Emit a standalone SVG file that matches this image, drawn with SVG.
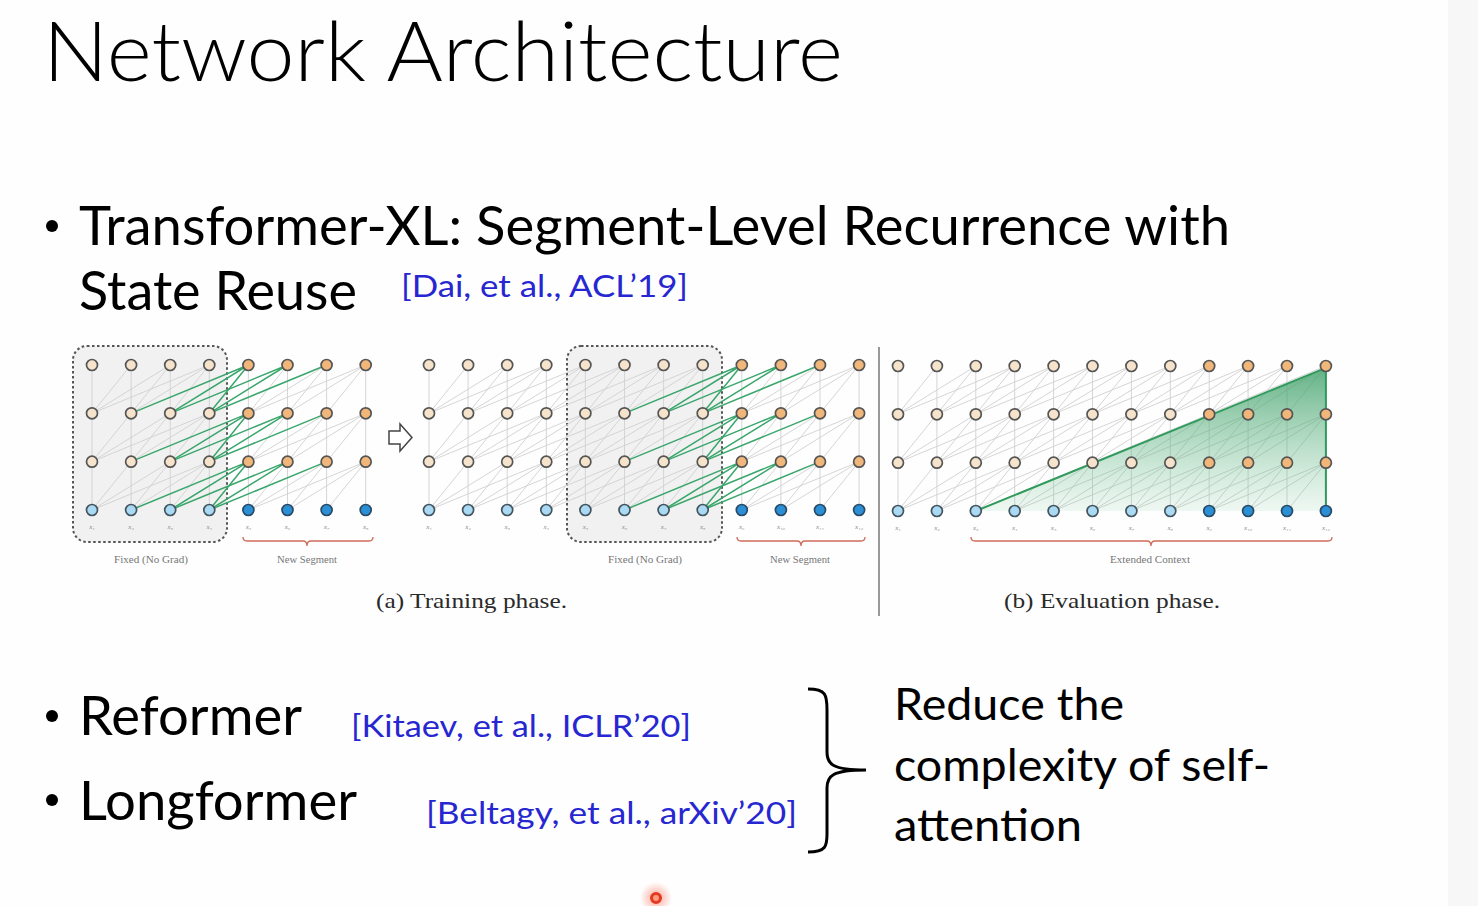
<svg xmlns="http://www.w3.org/2000/svg" xmlns:xlink="http://www.w3.org/1999/xlink" width="1478" height="906" viewBox="0 0 1478 906">
<style>
.t{font-family:Lato,"Open Sans","Liberation Sans",sans-serif;fill:#000}
.cite{font-family:Lato,"Open Sans","Liberation Sans",sans-serif;fill:#2727d2}
.gl{stroke:#d0d0d0;stroke-width:0.9;fill:none}
.gr{stroke:#3aa66c;stroke-width:1.5;fill:none}
.b{fill:#f6e3cb;stroke:#555;stroke-width:1.7}
.o{fill:#f0b67a;stroke:#555;stroke-width:1.7}
.l{fill:#a9d9f3;stroke:#44545f;stroke-width:1.7}
.d{fill:#2b8fd6;stroke:#2a4a66;stroke-width:1.7}
.xl{font-family:"Liberation Serif","DejaVu Serif",serif;font-size:7px;fill:#888;text-anchor:middle;font-style:italic}
.sm{font-family:"Liberation Serif","DejaVu Serif",serif;font-size:11px;fill:#777;text-anchor:middle}
.cap{font-family:"Liberation Serif","DejaVu Serif",serif;font-size:22px;fill:#2a2a2a;text-anchor:middle}
.brace{fill:none;stroke:#d06a5a;stroke-width:1.3}
.box{fill:#f1f1f1;stroke:#555;stroke-width:2;stroke-dasharray:2.5 2.5}
</style>
<defs>
<path id="f1" d="M0 0V48.33"/>
<path id="f2" d="M0 0V48.33M0 0L-39.1 48.33"/>
<path id="f3" d="M0 0V48.33M0 0L-39.1 48.33M0 0L-78.2 48.33"/>
<path id="f4" d="M0 0V48.33M0 0L-39.1 48.33M0 0L-78.2 48.33M0 0L-117.3 48.33"/>
<path id="e3" d="M0 0L-39.1 48.33M0 0L-78.2 48.33M0 0L-117.3 48.33"/>
<path id="e2" d="M0 0L-78.2 48.33M0 0L-117.3 48.33"/>
<path id="e1" d="M0 0L-117.3 48.33"/>
<g id="a1g"><use href="#f1" x="92"/><use href="#f2" x="131.1"/><use href="#f3" x="170.2"/><use href="#f4" x="209.3"/><use href="#f1" x="248.4"/><use href="#f2" x="287.5"/><use href="#f3" x="326.6"/><use href="#f4" x="365.7"/></g>
<g id="a1e"><use href="#e3" x="248.4"/><use href="#e2" x="287.5"/><use href="#e1" x="326.6"/></g>
<g id="a2g"><use href="#f1" x="429"/><use href="#f2" x="468.1"/><use href="#f3" x="507.2"/><use href="#f4" x="546.3"/><use href="#f4" x="585.4"/><use href="#f4" x="624.5"/><use href="#f4" x="663.6"/><use href="#f4" x="702.7"/><use href="#f1" x="741.8"/><use href="#f2" x="780.9"/><use href="#f3" x="820"/><use href="#f4" x="859.1"/></g>
<g id="a2e"><use href="#e3" x="741.8"/><use href="#e2" x="780.9"/><use href="#e1" x="820"/></g>
<g id="bg"><use href="#f1" x="898"/><use href="#f2" x="936.9"/><use href="#f3" x="975.8"/><use href="#f4" x="1014.7"/><use href="#f4" x="1053.6"/><use href="#f4" x="1092.5"/><use href="#f4" x="1131.4"/><use href="#f4" x="1170.3"/><use href="#f4" x="1209.2"/><use href="#f4" x="1248.1"/><use href="#f4" x="1287"/><use href="#f4" x="1325.9"/></g>
<linearGradient id="tri" x1="0" y1="0" x2="0" y2="1">
<stop offset="0" stop-color="#3e9f68" stop-opacity="0.8"/>
<stop offset="1" stop-color="#7cc79a" stop-opacity="0.12"/>
</linearGradient>
<radialGradient id="glow">
<stop offset="0" stop-color="#ff6a50" stop-opacity="0.6"/>
<stop offset="1" stop-color="#ff6a50" stop-opacity="0"/>
</radialGradient>
</defs>
<rect x="0" y="0" width="1478" height="906" fill="#fefefe"/>
<rect x="1448" y="0" width="30" height="906" fill="#f7f7f7"/>

<g id="title"><text class="t" x="43" y="81" font-size="82" font-weight="300" textLength="800" lengthAdjust="spacingAndGlyphs">Network Architecture</text></g>

<g id="bullet1">
<circle cx="52" cy="226" r="6" fill="#000"/>
<text class="t" x="79" y="245" font-size="54" textLength="1151" lengthAdjust="spacingAndGlyphs">Transformer-XL: Segment-Level Recurrence with</text>
<text class="t" x="79" y="310" font-size="54" textLength="278" lengthAdjust="spacingAndGlyphs">State Reuse</text>
<text class="cite" x="401" y="297" font-size="31" textLength="287" lengthAdjust="spacingAndGlyphs">[Dai, et al., ACL’19]</text>
</g>

<g id="figure">
<g id="boxes">
<rect class="box" x="73" y="346" width="154" height="196" rx="14"/>
<rect class="box" x="567" y="346" width="155" height="196" rx="14"/>
</g>
<g id="connectors">
<g class="gl">
<use href="#a1g" y="365"/><use href="#a1g" y="413.33"/><use href="#a1g" y="461.67"/>
<use href="#a2g" y="365"/><use href="#a2g" y="413.33"/><use href="#a2g" y="461.67"/>
<use href="#bg" y="366"/><use href="#bg" y="414.33"/><use href="#bg" y="462.67"/>
</g>
<g class="gr">
<use href="#a1e" y="365"/><use href="#a1e" y="413.33"/><use href="#a1e" y="461.67"/>
<use href="#a2e" y="365"/><use href="#a2e" y="413.33"/><use href="#a2e" y="461.67"/>
</g>
<path d="M975.8 511L1325.9 369L1325.9 511Z" fill="url(#tri)"/>
<path d="M975.8 511L1325.9 368M1325.9 366V511" fill="none" stroke="#2f9a5c" stroke-width="2"/>
</g>

<g id="nodesA1">
<g id="a1r3"><circle class="b" cx="92" cy="365" r="5.5"/><circle class="b" cx="131.1" cy="365" r="5.5"/><circle class="b" cx="170.2" cy="365" r="5.5"/><circle class="b" cx="209.3" cy="365" r="5.5"/><circle class="o" cx="248.4" cy="365" r="5.5"/><circle class="o" cx="287.5" cy="365" r="5.5"/><circle class="o" cx="326.6" cy="365" r="5.5"/><circle class="o" cx="365.7" cy="365" r="5.5"/></g>
<g id="a1r2"><circle class="b" cx="92" cy="413.3" r="5.5"/><circle class="b" cx="131.1" cy="413.3" r="5.5"/><circle class="b" cx="170.2" cy="413.3" r="5.5"/><circle class="b" cx="209.3" cy="413.3" r="5.5"/><circle class="o" cx="248.4" cy="413.3" r="5.5"/><circle class="o" cx="287.5" cy="413.3" r="5.5"/><circle class="o" cx="326.6" cy="413.3" r="5.5"/><circle class="o" cx="365.7" cy="413.3" r="5.5"/></g>
<g id="a1r1"><circle class="b" cx="92" cy="461.7" r="5.5"/><circle class="b" cx="131.1" cy="461.7" r="5.5"/><circle class="b" cx="170.2" cy="461.7" r="5.5"/><circle class="b" cx="209.3" cy="461.7" r="5.5"/><circle class="o" cx="248.4" cy="461.7" r="5.5"/><circle class="o" cx="287.5" cy="461.7" r="5.5"/><circle class="o" cx="326.6" cy="461.7" r="5.5"/><circle class="o" cx="365.7" cy="461.7" r="5.5"/></g>
<g id="a1r0"><circle class="l" cx="92" cy="510" r="5.5"/><circle class="l" cx="131.1" cy="510" r="5.5"/><circle class="l" cx="170.2" cy="510" r="5.5"/><circle class="l" cx="209.3" cy="510" r="5.5"/><circle class="d" cx="248.4" cy="510" r="5.5"/><circle class="d" cx="287.5" cy="510" r="5.5"/><circle class="d" cx="326.6" cy="510" r="5.5"/><circle class="d" cx="365.7" cy="510" r="5.5"/></g>
<g id="a1x"><text class="xl" x="92" y="529">x₁</text><text class="xl" x="131.1" y="529">x₂</text><text class="xl" x="170.2" y="529">x₃</text><text class="xl" x="209.3" y="529">x₄</text><text class="xl" x="248.4" y="529">x₅</text><text class="xl" x="287.5" y="529">x₆</text><text class="xl" x="326.6" y="529">x₇</text><text class="xl" x="365.7" y="529">x₈</text></g>
</g>

<g id="nodesA2">
<g id="a2r3"><circle class="b" cx="429" cy="365" r="5.5"/><circle class="b" cx="468.1" cy="365" r="5.5"/><circle class="b" cx="507.2" cy="365" r="5.5"/><circle class="b" cx="546.3" cy="365" r="5.5"/><circle class="b" cx="585.4" cy="365" r="5.5"/><circle class="b" cx="624.5" cy="365" r="5.5"/><circle class="b" cx="663.6" cy="365" r="5.5"/><circle class="b" cx="702.7" cy="365" r="5.5"/><circle class="o" cx="741.8" cy="365" r="5.5"/><circle class="o" cx="780.9" cy="365" r="5.5"/><circle class="o" cx="820" cy="365" r="5.5"/><circle class="o" cx="859.1" cy="365" r="5.5"/></g>
<g id="a2r2"><circle class="b" cx="429" cy="413.3" r="5.5"/><circle class="b" cx="468.1" cy="413.3" r="5.5"/><circle class="b" cx="507.2" cy="413.3" r="5.5"/><circle class="b" cx="546.3" cy="413.3" r="5.5"/><circle class="b" cx="585.4" cy="413.3" r="5.5"/><circle class="b" cx="624.5" cy="413.3" r="5.5"/><circle class="b" cx="663.6" cy="413.3" r="5.5"/><circle class="b" cx="702.7" cy="413.3" r="5.5"/><circle class="o" cx="741.8" cy="413.3" r="5.5"/><circle class="o" cx="780.9" cy="413.3" r="5.5"/><circle class="o" cx="820" cy="413.3" r="5.5"/><circle class="o" cx="859.1" cy="413.3" r="5.5"/></g>
<g id="a2r1"><circle class="b" cx="429" cy="461.7" r="5.5"/><circle class="b" cx="468.1" cy="461.7" r="5.5"/><circle class="b" cx="507.2" cy="461.7" r="5.5"/><circle class="b" cx="546.3" cy="461.7" r="5.5"/><circle class="b" cx="585.4" cy="461.7" r="5.5"/><circle class="b" cx="624.5" cy="461.7" r="5.5"/><circle class="b" cx="663.6" cy="461.7" r="5.5"/><circle class="b" cx="702.7" cy="461.7" r="5.5"/><circle class="o" cx="741.8" cy="461.7" r="5.5"/><circle class="o" cx="780.9" cy="461.7" r="5.5"/><circle class="o" cx="820" cy="461.7" r="5.5"/><circle class="o" cx="859.1" cy="461.7" r="5.5"/></g>
<g id="a2r0"><circle class="l" cx="429" cy="510" r="5.5"/><circle class="l" cx="468.1" cy="510" r="5.5"/><circle class="l" cx="507.2" cy="510" r="5.5"/><circle class="l" cx="546.3" cy="510" r="5.5"/><circle class="l" cx="585.4" cy="510" r="5.5"/><circle class="l" cx="624.5" cy="510" r="5.5"/><circle class="l" cx="663.6" cy="510" r="5.5"/><circle class="l" cx="702.7" cy="510" r="5.5"/><circle class="d" cx="741.8" cy="510" r="5.5"/><circle class="d" cx="780.9" cy="510" r="5.5"/><circle class="d" cx="820" cy="510" r="5.5"/><circle class="d" cx="859.1" cy="510" r="5.5"/></g>
<g id="a2x"><text class="xl" x="429" y="529">x₁</text><text class="xl" x="468.1" y="529">x₂</text><text class="xl" x="507.2" y="529">x₃</text><text class="xl" x="546.3" y="529">x₄</text><text class="xl" x="585.4" y="529">x₅</text><text class="xl" x="624.5" y="529">x₆</text><text class="xl" x="663.6" y="529">x₇</text><text class="xl" x="702.7" y="529">x₈</text><text class="xl" x="741.8" y="529">x₉</text><text class="xl" x="780.9" y="529">x₁₀</text><text class="xl" x="820" y="529">x₁₁</text><text class="xl" x="859.1" y="529">x₁₂</text></g>
</g>

<g id="nodesB">
<g id="br3"><circle class="b" cx="898" cy="366" r="5.5"/><circle class="b" cx="936.9" cy="366" r="5.5"/><circle class="b" cx="975.8" cy="366" r="5.5"/><circle class="b" cx="1014.7" cy="366" r="5.5"/><circle class="b" cx="1053.6" cy="366" r="5.5"/><circle class="b" cx="1092.5" cy="366" r="5.5"/><circle class="b" cx="1131.4" cy="366" r="5.5"/><circle class="b" cx="1170.3" cy="366" r="5.5"/><circle class="o" cx="1209.2" cy="366" r="5.5"/><circle class="o" cx="1248.1" cy="366" r="5.5"/><circle class="o" cx="1287" cy="366" r="5.5"/><circle class="o" cx="1325.9" cy="366" r="5.5"/></g>
<g id="br2"><circle class="b" cx="898" cy="414.3" r="5.5"/><circle class="b" cx="936.9" cy="414.3" r="5.5"/><circle class="b" cx="975.8" cy="414.3" r="5.5"/><circle class="b" cx="1014.7" cy="414.3" r="5.5"/><circle class="b" cx="1053.6" cy="414.3" r="5.5"/><circle class="b" cx="1092.5" cy="414.3" r="5.5"/><circle class="b" cx="1131.4" cy="414.3" r="5.5"/><circle class="b" cx="1170.3" cy="414.3" r="5.5"/><circle class="o" cx="1209.2" cy="414.3" r="5.5"/><circle class="o" cx="1248.1" cy="414.3" r="5.5"/><circle class="o" cx="1287" cy="414.3" r="5.5"/><circle class="o" cx="1325.9" cy="414.3" r="5.5"/></g>
<g id="br1"><circle class="b" cx="898" cy="462.7" r="5.5"/><circle class="b" cx="936.9" cy="462.7" r="5.5"/><circle class="b" cx="975.8" cy="462.7" r="5.5"/><circle class="b" cx="1014.7" cy="462.7" r="5.5"/><circle class="b" cx="1053.6" cy="462.7" r="5.5"/><circle class="b" cx="1092.5" cy="462.7" r="5.5"/><circle class="b" cx="1131.4" cy="462.7" r="5.5"/><circle class="b" cx="1170.3" cy="462.7" r="5.5"/><circle class="o" cx="1209.2" cy="462.7" r="5.5"/><circle class="o" cx="1248.1" cy="462.7" r="5.5"/><circle class="o" cx="1287" cy="462.7" r="5.5"/><circle class="o" cx="1325.9" cy="462.7" r="5.5"/></g>
<g id="br0"><circle class="l" cx="898" cy="511" r="5.5"/><circle class="l" cx="936.9" cy="511" r="5.5"/><circle class="l" cx="975.8" cy="511" r="5.5"/><circle class="l" cx="1014.7" cy="511" r="5.5"/><circle class="l" cx="1053.6" cy="511" r="5.5"/><circle class="l" cx="1092.5" cy="511" r="5.5"/><circle class="l" cx="1131.4" cy="511" r="5.5"/><circle class="l" cx="1170.3" cy="511" r="5.5"/><circle class="d" cx="1209.2" cy="511" r="5.5"/><circle class="d" cx="1248.1" cy="511" r="5.5"/><circle class="d" cx="1287" cy="511" r="5.5"/><circle class="d" cx="1325.9" cy="511" r="5.5"/></g>
<g id="bx"><text class="xl" x="898" y="530">x₁</text><text class="xl" x="936.9" y="530">x₂</text><text class="xl" x="975.8" y="530">x₃</text><text class="xl" x="1014.7" y="530">x₄</text><text class="xl" x="1053.6" y="530">x₅</text><text class="xl" x="1092.5" y="530">x₆</text><text class="xl" x="1131.4" y="530">x₇</text><text class="xl" x="1170.3" y="530">x₈</text><text class="xl" x="1209.2" y="530">x₉</text><text class="xl" x="1248.1" y="530">x₁₀</text><text class="xl" x="1287" y="530">x₁₁</text><text class="xl" x="1325.9" y="530">x₁₂</text></g>
</g>

<g id="figlabels">
<path class="brace" d="M243 537Q243 541 247 541L303 541Q307 541 307 546Q307 541 311 541L369 541Q373 541 373 537"/>
<path class="brace" d="M737 537Q737 541 741 541L797 541Q801 541 801 546Q801 541 805 541L861 541Q865 541 865 537"/>
<path class="brace" d="M971 537Q971 541 975 541L1147 541Q1151 541 1151 546Q1151 541 1155 541L1328 541Q1332 541 1332 537"/>
<text class="sm" x="151" y="563" textLength="74" lengthAdjust="spacingAndGlyphs">Fixed (No Grad)</text>
<text class="sm" x="307" y="563" textLength="60" lengthAdjust="spacingAndGlyphs">New Segment</text>
<text class="sm" x="645" y="563" textLength="74" lengthAdjust="spacingAndGlyphs">Fixed (No Grad)</text>
<text class="sm" x="800" y="563" textLength="60" lengthAdjust="spacingAndGlyphs">New Segment</text>
<text class="sm" x="1150" y="563" textLength="80" lengthAdjust="spacingAndGlyphs">Extended Context</text>
<path d="M389 431H400V424L412 437.5L400 451V444H389Z" fill="#fff" stroke="#444" stroke-width="1.5"/>
<line x1="879" y1="347" x2="879" y2="616" stroke="#777" stroke-width="1.5"/>
<text class="cap" x="471.5" y="608" textLength="191" lengthAdjust="spacingAndGlyphs">(a) Training phase.</text>
<text class="cap" x="1112" y="608" textLength="216" lengthAdjust="spacingAndGlyphs">(b) Evaluation phase.</text>
</g>
</g>

<g id="bullet2">
<circle cx="52" cy="716" r="6" fill="#000"/>
<text class="t" x="79" y="735" font-size="54" textLength="223" lengthAdjust="spacingAndGlyphs">Reformer</text>
<text class="cite" x="351" y="737" font-size="31" textLength="340" lengthAdjust="spacingAndGlyphs">[Kitaev, et al., ICLR’20]</text>
</g>
<g id="bullet3">
<circle cx="52" cy="800" r="6" fill="#000"/>
<text class="t" x="79" y="820" font-size="54" textLength="278" lengthAdjust="spacingAndGlyphs">Longformer</text>
<text class="cite" x="426" y="824" font-size="31" textLength="371" lengthAdjust="spacingAndGlyphs">[Beltagy, et al., arXiv’20]</text>
</g>

<g id="summary">
<path d="M808 689C826 689 827 695 827 710L827 752C827 764 832 770 866 770C832 770 827 776 827 788L827 834C827 846 826 852 808 852" fill="none" stroke="#000" stroke-width="3"/>
<text class="t" x="894" y="720" font-size="44" textLength="230" lengthAdjust="spacingAndGlyphs">Reduce the</text>
<text class="t" x="894" y="781" font-size="44" textLength="376" lengthAdjust="spacingAndGlyphs">complexity of self-</text>
<text class="t" x="894" y="841" font-size="44" textLength="188" lengthAdjust="spacingAndGlyphs">attention</text>
</g>

<g id="cursor">
<circle cx="656" cy="898" r="16" fill="url(#glow)"/>
<circle cx="656" cy="898" r="4.5" fill="#ff9a80" stroke="#e23a22" stroke-width="3"/>
</g>
</svg>
